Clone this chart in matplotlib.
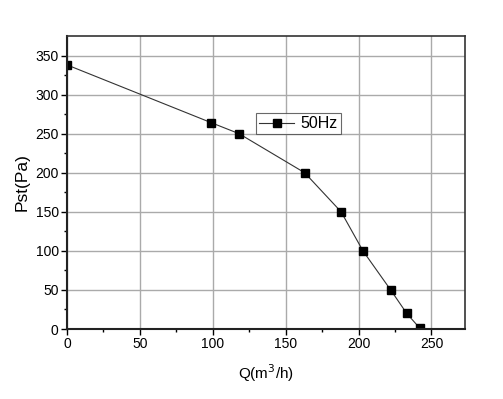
import matplotlib.pyplot as plt
import numpy as np

plt.rcParams['font.family'] = ['Liberation Sans', 'DejaVu Sans']

# 风量 Q 和静压 Pst
q = [0, 99, 118, 163, 188, 203, 222, 233, 242]
pst = [338, 264, 250, 200, 150, 100, 50, 20, 1]
series_label = '50Hz'

x_ticks = np.arange(0, 251, 50)
y_ticks = np.arange(0, 351, 50)

fig = plt.figure(figsize=(5.03, 3.99), dpi=100)
ax = fig.add_axes([0.1332, 0.1754, 0.7913, 0.7344])

ax.plot(q, pst, color='#333333', linewidth=0.8, marker='s', markersize=5.5,
        markerfacecolor='black', markeredgecolor='black', label=series_label)

ax.set_xlim(0, 273)
ax.set_ylim(0, 375)
ax.set_xticks(x_ticks)
ax.set_yticks(y_ticks)
ax.set_xticks(np.arange(25, 275, 50), minor=True)
ax.set_yticks(np.arange(25, 375, 50), minor=True)
ax.tick_params(which='major', direction='out', length=4, width=1, labelsize=10, pad=2)
ax.tick_params(which='minor', direction='out', length=2.5, width=1)
ax.tick_params(top=False, right=False)
ax.grid(True, which='major', color='#aaaaaa', linewidth=1)
ax.set_axisbelow(True)

for side in ['left', 'bottom']:
    ax.spines[side].set_linewidth(1.5)
    ax.spines[side].set_color('#222222')
for side in ['top', 'right']:
    ax.spines[side].set_linewidth(1.2)
    ax.spines[side].set_color('#333333')

ax.set_xlabel('Q(m$^3$/h)', fontsize=11, labelpad=8)
ax.set_ylabel('Pst(Pa)', fontsize=12.5, labelpad=4)

leg = ax.legend(loc='upper left', bbox_to_anchor=(256 / 503, 1 - 113 / 399),
                bbox_transform=fig.transFigure, fontsize=11.5, frameon=True,
                fancybox=False, edgecolor='#444444', handlelength=2.2,
                borderpad=0.2, handletextpad=0.4, borderaxespad=0)
leg.get_frame().set_linewidth(0.8)

fig.savefig('out.png', dpi=100)
